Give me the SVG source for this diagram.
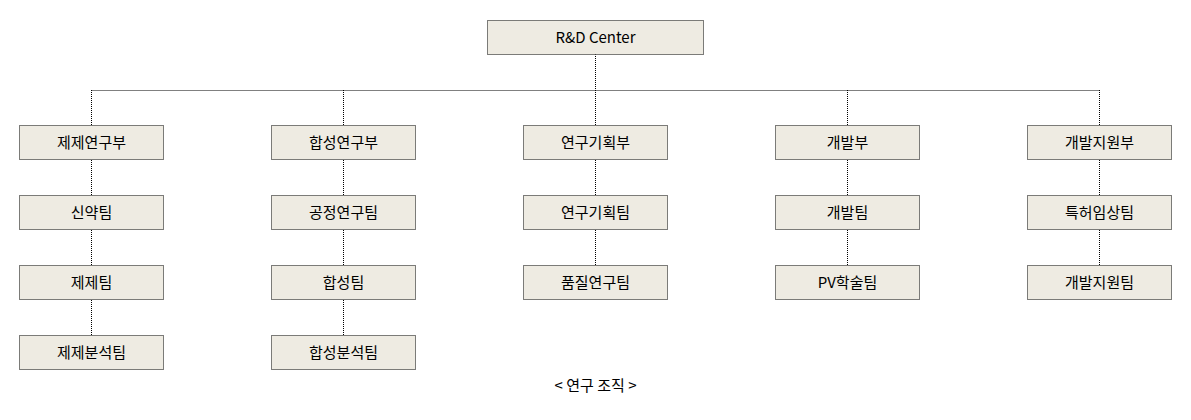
<svg xmlns="http://www.w3.org/2000/svg" width="1191" height="420" viewBox="0 0 1191 420">
<style>
.b{fill:#EEEBE2;stroke:#000;stroke-width:1;stroke-dasharray:1,1}
.c{fill:none;stroke:#000;stroke-width:1;stroke-dasharray:1,1}
text{font-family:"Noto Sans CJK KR","Liberation Sans",sans-serif;font-size:15px;text-anchor:middle;fill:#000}
</style>
<rect width="1191" height="420" fill="#fff"/>
<g id="connectors">
<path class="c" d="M595.5 54V90M91.5 90.5H1099.5M91.5 90V335M343.5 90V335M595.5 90V265M847.5 90V265M1099.5 90V265"/>
</g>
<g id="root"><rect class="b" x="487.5" y="20.5" width="216" height="34"/><text x="595.5" y="43">R&amp;D Center</text></g>
<g id="n1"><rect class="b" x="19.5" y="125.5" width="144" height="34"/><text x="91.5" y="148">제제연구부</text></g>
<g id="n2"><rect class="b" x="19.5" y="195.5" width="144" height="34"/><text x="91.5" y="218">신약팀</text></g>
<g id="n3"><rect class="b" x="19.5" y="265.5" width="144" height="34"/><text x="91.5" y="288">제제팀</text></g>
<g id="n4"><rect class="b" x="19.5" y="335.5" width="144" height="34"/><text x="91.5" y="358">제제분석팀</text></g>
<g id="n5"><rect class="b" x="271.5" y="125.5" width="144" height="34"/><text x="343.5" y="148">합성연구부</text></g>
<g id="n6"><rect class="b" x="271.5" y="195.5" width="144" height="34"/><text x="343.5" y="218">공정연구팀</text></g>
<g id="n7"><rect class="b" x="271.5" y="265.5" width="144" height="34"/><text x="343.5" y="288">합성팀</text></g>
<g id="n8"><rect class="b" x="271.5" y="335.5" width="144" height="34"/><text x="343.5" y="358">합성분석팀</text></g>
<g id="n9"><rect class="b" x="523.5" y="125.5" width="144" height="34"/><text x="595.5" y="148">연구기획부</text></g>
<g id="n10"><rect class="b" x="523.5" y="195.5" width="144" height="34"/><text x="595.5" y="218">연구기획팀</text></g>
<g id="n11"><rect class="b" x="523.5" y="265.5" width="144" height="34"/><text x="595.5" y="288">품질연구팀</text></g>
<g id="n12"><rect class="b" x="775.5" y="125.5" width="144" height="34"/><text x="847.5" y="148">개발부</text></g>
<g id="n13"><rect class="b" x="775.5" y="195.5" width="144" height="34"/><text x="847.5" y="218">개발팀</text></g>
<g id="n14"><rect class="b" x="775.5" y="265.5" width="144" height="34"/><text x="847.5" y="288">PV학술팀</text></g>
<g id="n15"><rect class="b" x="1027.5" y="125.5" width="144" height="34"/><text x="1099.5" y="148">개발지원부</text></g>
<g id="n16"><rect class="b" x="1027.5" y="195.5" width="144" height="34"/><text x="1099.5" y="218">특허임상팀</text></g>
<g id="n17"><rect class="b" x="1027.5" y="265.5" width="144" height="34"/><text x="1099.5" y="288">개발지원팀</text></g>
<text x="595.5" y="391">&lt; 연구 조직 &gt;</text>
</svg>
